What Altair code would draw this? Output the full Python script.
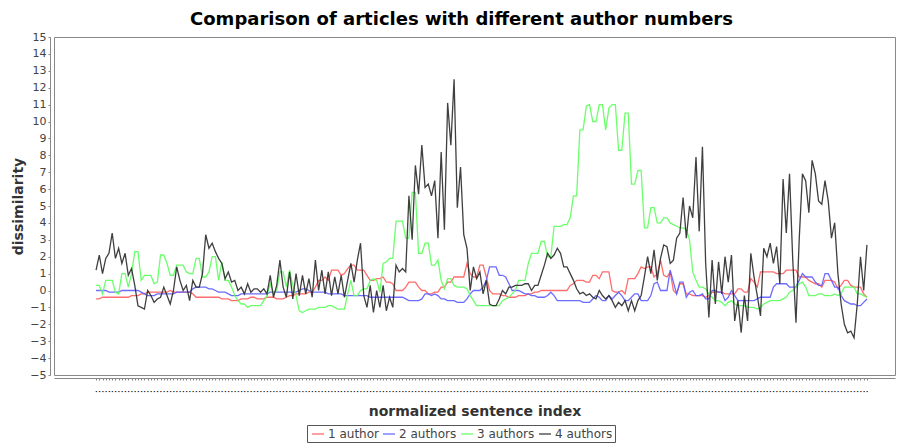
import altair as alt
import pandas as pd

# Dissimilarity per normalized sentence index, one list per author-count group
one_author = [
    -0.5, -0.5, -0.4, -0.4, -0.4, -0.4, -0.4, -0.4, -0.4, -0.4,
    -0.4, -0.3, -0.3, -0.3, -0.2, -0.2, -0.1, -0.1, -0.1, -0.1,
    -0.1, -0.1, -0.1, 0.0, -0.1, -0.1, -0.1, -0.1, -0.1, -0.1,
    -0.2, -0.4, -0.4, -0.4, -0.4, -0.4, -0.4, -0.4, -0.4, -0.5,
    -0.5, -0.5, -0.6, -0.6, -0.6, -0.5, -0.5, -0.5, -0.4, -0.4,
    -0.5, -0.5, -0.5, -0.4, -0.4, -0.4, -0.5, -0.5, -0.5, -0.4,
    -0.3, -0.3, -0.2, -0.2, -0.2, -0.2, -0.1, -0.1, 0.2, 0.6,
    0.6, 0.8, 0.6, 1.2, 1.2, 1.2, 0.9, 1.0, 1.3, 1.5,
    1.5, 1.2, 1.2, 1.2, 0.9, 0.6, 0.6, 0.7, 0.7, 0.8,
    0.5, 0.5, 0.4, 0.0, 0.0, 0.0, 0.2, 0.5, 0.5, 0.5,
    0.2, 0.0, 0.0, -0.2, -0.2, -0.1, -0.1, 0.2, 0.2, 0.5,
    0.5, 0.8, 0.8, 0.8, 0.8, 1.6, 1.0, 0.8, 0.8, 1.5,
    1.5, 0.8, 0.0, -0.2, -0.2, -0.2, -0.3, -0.3, -0.4, -0.4,
    -0.4, -0.3, -0.3, -0.3, -0.2, -0.2, -0.1, -0.1, 0.0, 0.0,
    0.0, 0.0, 0.0, 0.0, 0.0, 0.0, 0.0, 0.3, 0.4, 0.6,
    0.6, 0.6, 0.5, 0.5, 0.9, 0.9, 0.7, 1.1, 1.1, 1.1,
    0.0, -0.1, -0.1, 0.0, -0.2, 0.7, 0.7, 0.7, 1.0, 1.4,
    1.3, 1.4, 1.4, 0.8, 1.0, 1.8, 0.9, 0.8, 1.1, 0.0,
    -0.2, 0.4, 0.4, -0.2, -0.2, -0.3, -0.3, -0.3, -0.3, -0.4,
    -0.3, -0.1, -0.1, -0.1, -0.1, -0.2, -0.2, -0.2, -0.2, 0.1,
    0.1, -0.1, -0.1, 0.7, 0.5, 0.2, 1.1, 1.1, 1.1, 1.1,
    1.1, 1.0, 1.0, 1.0, 1.2, 1.2, 1.2, 1.2, 0.8, 0.8,
    0.8, 0.6, 0.5, 0.4, 0.4, 0.2, 0.6, 0.6, 0.6, 0.5,
    0.1, 0.3, 0.6, 0.6, 0.3, 0.2, 0.2, 0.2, -0.2, -0.4,
]

two_authors = [
    0.0, 0.0, 0.0, 0.0, -0.1, -0.1, -0.1, -0.1, 0.0, 0.0,
    0.0, 0.0, 0.0, 0.0, -0.1, -0.2, -0.3, -0.3, -0.3, -0.2,
    -0.2, -0.2, -0.2, -0.2, -0.2, -0.1, -0.1, -0.1, -0.1, -0.1,
    0.1, 0.2, 0.2, 0.2, 0.2, 0.1, 0.1, 0.0, -0.1, -0.1,
    -0.1, -0.2, -0.3, -0.3, -0.3, -0.2, -0.2, -0.2, -0.2, -0.2,
    -0.2, -0.2, -0.2, -0.2, -0.1, -0.1, -0.1, -0.1, -0.1, -0.1,
    -0.1, -0.1, -0.1, 0.0, 0.1, 0.1, 0.0, -0.1, -0.1, -0.1,
    -0.1, -0.1, -0.2, -0.2, -0.2, -0.2, -0.2, -0.3, -0.3, -0.3,
    -0.3, -0.3, -0.3, -0.3, -0.3, -0.4, -0.4, -0.4, -0.4, -0.4,
    -0.4, -0.4, -0.4, -0.4, -0.4, -0.4, -0.5, -0.6, -0.6, -0.6,
    -0.6, -0.5, -0.2, -0.2, -0.3, -0.2, -0.3, -0.5, -0.5, -0.6,
    -0.6, -0.6, -0.7, -0.7, -0.7, -0.5, -0.2, 0.0, 0.0, 0.0,
    0.2, 0.6, 1.4, 1.4, 1.4, 0.9, 0.9, 0.8, 0.4, 0.0,
    0.0, 0.0, -0.1, -0.2, -0.2, -0.3, -0.3, -0.4, -0.4, -0.4,
    -0.3, -0.1, -0.3, -0.6, -0.6, -0.6, -0.6, -0.6, -0.6, -0.6,
    -0.6, -0.7, -0.7, -0.7, -0.5, -0.3, -0.4, -0.6, -0.6, -0.3,
    -0.5, -0.3, -0.1, -0.3, -0.6, -0.6, -0.4, -0.2, -0.2, -0.6,
    -0.6, -0.6, -0.3, 0.4, 0.5, 0.0, 0.0, 0.0, 1.2, 0.5,
    -0.2, 0.5, 0.5, -0.4, -0.1, 0.0, -0.3, -0.3, -0.2, -0.5,
    -0.5, 0.0, 0.0, -0.1, -0.1, -0.6, -0.4, 0.0, -0.3, -0.6,
    -0.6, -0.6, -0.6, -0.6, -0.6, -0.5, -0.4, -0.4, -0.4, -0.4,
    0.2, 0.4, 0.4, 0.4, 0.4, 0.2, 0.2, 0.2, 0.6, 1.0,
    0.8, 0.8, 0.8, 0.5, 0.3, 0.3, 1.0, 1.0, 0.6, 0.2,
    0.2, -0.3, -0.6, -0.7, -0.8, -0.8, -0.9, -0.9, -0.7, -0.5,
]

three_authors = [
    0.3, 0.3, -0.2, 0.6, 0.6, 0.6, -0.1, -0.2, 1.0, 1.0,
    0.2, 1.0, 2.3, 2.3, 0.6, 0.9, 0.9, 0.9, 0.4, 0.5,
    2.1, 2.1, 1.6, 0.9, 0.9, 1.5, 1.5, 1.5, 1.1, 1.0,
    1.0, 1.9, 1.9, 0.8, 0.8, 1.1, 2.0, 2.0, 0.6, 1.7,
    0.6, 0.6, 0.2, -0.3, -0.6, -0.8, -0.8, -1.0, -0.9, -0.9,
    -0.9, -0.9, -0.6, -0.3, 0.4, -0.2, 0.0, 1.1, 1.1, 0.2,
    1.2, 0.3, -0.3, -1.2, -1.3, -1.2, -1.1, -1.1, -1.1, -1.0,
    -1.0, -1.0, -0.9, -0.9, -1.0, -1.1, -1.1, -1.1, -0.2, 0.6,
    -0.3, -0.3, 0.0, 0.1, 0.1, 0.6, 0.7, 0.6, -0.1, 1.6,
    1.7, 1.9, 1.9, 4.1, 4.1, 4.1, 3.1, 3.1, 5.8, 5.8,
    2.2, 2.2, 2.8, 2.8, 1.5, 1.5, 1.8, 0.6, 0.1, 0.7,
    0.7, 0.3, 0.2, 0.2, 0.2, 0.1, -0.3, -0.6, -0.9, -0.9,
    -0.9, -0.9, -0.9, -0.9, -0.9, -0.9, -0.6, -0.5, -0.4, -0.2,
    0.0, 0.6, 0.6, 0.6, 1.6, 2.2, 2.2, 2.2, 2.9, 2.9,
    2.0, 2.0, 3.8, 3.8, 3.8, 3.9, 3.9, 4.3, 5.6, 5.6,
    9.5, 9.5, 10.9, 11.0, 10.0, 10.0, 11.0, 11.0, 9.5, 10.8,
    11.0, 11.0, 8.3, 8.3, 10.5, 10.5, 6.3, 6.3, 7.1, 7.1,
    3.7, 3.7, 4.9, 4.9, 4.0, 4.0, 4.3, 4.3, 4.0, 3.9,
    3.8, 3.7, 3.7, 3.6, 3.0, 1.1, 0.6, 0.2, 0.2, 0.1,
    -0.2, -0.4, -0.6, -0.6, -0.7, -0.9, -0.7, -0.6, -0.8, -0.9,
    -0.9, -0.9, -1.0, -1.0, -1.0, -1.1, -1.0, -0.8, -0.7, -0.6,
    -0.6, -0.6, -0.6, -0.5, -0.4, -0.1, 0.0, 0.2, 0.4, 0.5,
    0.2, -0.3, -0.3, -0.3, -0.2, -0.2, -0.3, -0.3, -0.3, -0.2,
    -0.3, -0.2, 0.2, 0.2, 0.2, 0.2, -0.2, -0.2, -0.3, -0.4,
]

four_authors = [
    1.2, 2.1, 1.0, 1.9, 2.2, 3.4, 1.9, 2.5, 1.6, 2.2,
    0.9, 1.3, 0.3, -0.9, -1.0, -1.1, 0.0, -0.3, -0.7, -0.5,
    -0.4, 0.2, -0.3, -0.8, 0.0, 1.4, 0.6, 0.0, 0.3, -0.6,
    0.6, 0.2, 0.2, 1.0, 3.3, 2.5, 2.8, 2.3, 1.9, 1.6,
    0.7, 1.1, 0.5, 0.6, 0.0, 0.2, -0.2, 0.4, -0.1, 0.1,
    0.1, -0.1, 0.1, -0.2, 0.9, -0.4, 0.3, 1.8, 0.2, -0.4,
    1.1, -0.5, 1.0, -0.3, 0.9, -0.2, 0.7, -0.4, 1.8, 0.0,
    1.2, -0.2, 1.1, -0.3, 0.8, -0.2, 0.9, -0.4, 0.6, 1.6,
    0.5, 1.8, 2.8, -0.3, -1.0, 0.3, -1.3, 0.0, -1.0, 0.3,
    -1.2, -0.4, -1.0, 1.5, 1.1, 1.3, 1.1, 5.6, 3.0, 7.4,
    5.7, 8.6, 6.1, 6.3, 5.6, 6.5, 3.1, 8.2, 3.6, 11.1,
    8.6, 12.5, 4.9, 7.3, 3.3, 2.5, 0.0, 1.4, 0.7, 1.1,
    -0.2, 0.6, -0.8, -0.9, -0.9, -0.5, 0.0, -0.2, 0.2, 0.2,
    0.3, 0.3, 0.3, 0.4, 0.4, 0.0, 0.3, 0.3, 0.9, 1.5,
    2.2, 1.9, 2.1, 2.5, 2.2, 1.4, 1.4, 1.0, 0.6, 0.1,
    -0.2, -0.1, -0.3, -0.2, -0.4, -0.5, 0.0, -0.3, -0.5, -0.3,
    -0.6, -1.0, -0.7, -0.9, -0.6, -1.2, -0.6, -1.2, -0.6, -0.3,
    0.8, 2.0, 1.0, 2.4, 0.6, 1.9, 2.7, 2.6, 1.6, 1.8,
    3.1, 3.4, 5.5, 3.1, 5.0, 4.3, 7.9, 3.5, 8.5, 1.6,
    -1.6, 1.8, -0.8, 1.7, -0.2, 2.0, 0.5, 2.1, -1.8, -0.6,
    -2.5, -0.3, -1.8, 2.2, 0.8, -0.3, -1.5, 2.5, 2.0, 2.8,
    1.6, 2.6, 0.4, 6.6, 3.4, 6.9, 1.8, -1.9, 3.0, 6.9,
    6.5, 4.6, 7.7, 6.9, 5.3, 5.1, 6.5, 5.3, 3.1, 4.0,
    1.0, -0.8, -2.0, -2.5, -2.4, -2.8, -0.8, 2.0, 0.0, 2.7,
]

series_names = ["1 author", "2 authors", "3 authors", "4 authors"]
series_colors = ["#ff5c5c", "#5c5cff", "#5cff5c", "#2a2a2a"]
y_ticks = list(range(-5, 16))

rows = []
for name, values in zip(series_names, [one_author, two_authors, three_authors, four_authors]):
    for i, v in enumerate(values):
        rows.append({"sentence": i, "series": name, "dissimilarity": v})
df = pd.DataFrame(rows)

n = len(four_authors)
font = "DejaVu Sans"

chart = (
    alt.Chart(df)
    .mark_line(strokeWidth=1.3, opacity=0.9)
    .encode(
        x=alt.X(
            "sentence:Q",
            scale=alt.Scale(domain=[-13.04, 247.7], nice=False, zero=False),
            axis=alt.Axis(
                values=list(range(n)),
                labelExpr="'·'",
                labelOverlap=False,
                labelAngle=0,
                labelFontSize=8,
                labelFontWeight="bold",
                labelColor="#000000",
                labelPadding=7,
                tickSize=2,
                tickColor="#888888",
                domainColor="#888888",
                offset=3,
                grid=False,
                title="normalized sentence index",
                titleFont=font,
                titleFontSize=14,
                titleFontWeight="bold",
                titleColor="#333333",
                titlePadding=9,
            ),
        ),
        y=alt.Y(
            "dissimilarity:Q",
            scale=alt.Scale(domain=[-5, 15], nice=False, zero=False),
            axis=alt.Axis(
                values=y_ticks,
                labelFont=font,
                labelFontSize=11,
                labelColor="#444444",
                labelPadding=2,
                tickSize=2,
                tickColor="#888888",
                domainColor="#888888",
                offset=4,
                grid=False,
                title="dissimilarity",
                titleFont=font,
                titleFontSize=14,
                titleFontWeight="bold",
                titleColor="#333333",
                titlePadding=4,
            ),
        ),
        color=alt.Color(
            "series:N",
            scale=alt.Scale(domain=series_names, range=series_colors),
            legend=alt.Legend(
                title=None,
                orient="none",
                legendX=253,
                legendY=388,
                direction="horizontal",
                symbolType="stroke",
                symbolSize=144,
                symbolStrokeWidth=1.3,
                labelFont=font,
                labelFontSize=12,
                labelColor="#444444",
                columnPadding=1,
                symbolOffset=2,
                labelOffset=3,
                padding=2,
                strokeColor="#555555",
                fillColor="white",
            ),
        ),
    )
    .properties(
        width=841,
        height=338,
        title=alt.TitleParams(
            "Comparison of articles with different author numbers",
            font=font,
            fontSize=18,
            fontWeight="bold",
            color="#000000",
            anchor="middle",
            dx=-13,
            offset=2,
        ),
        padding={"left": 54, "top": 37, "right": 5, "bottom": 68},
        autosize=alt.AutoSizeParams(type="none"),
    )
    .configure_view(stroke="#888888", strokeWidth=1)
)

chart.save("out.html", embed_options={"renderer": "svg", "actions": False})
